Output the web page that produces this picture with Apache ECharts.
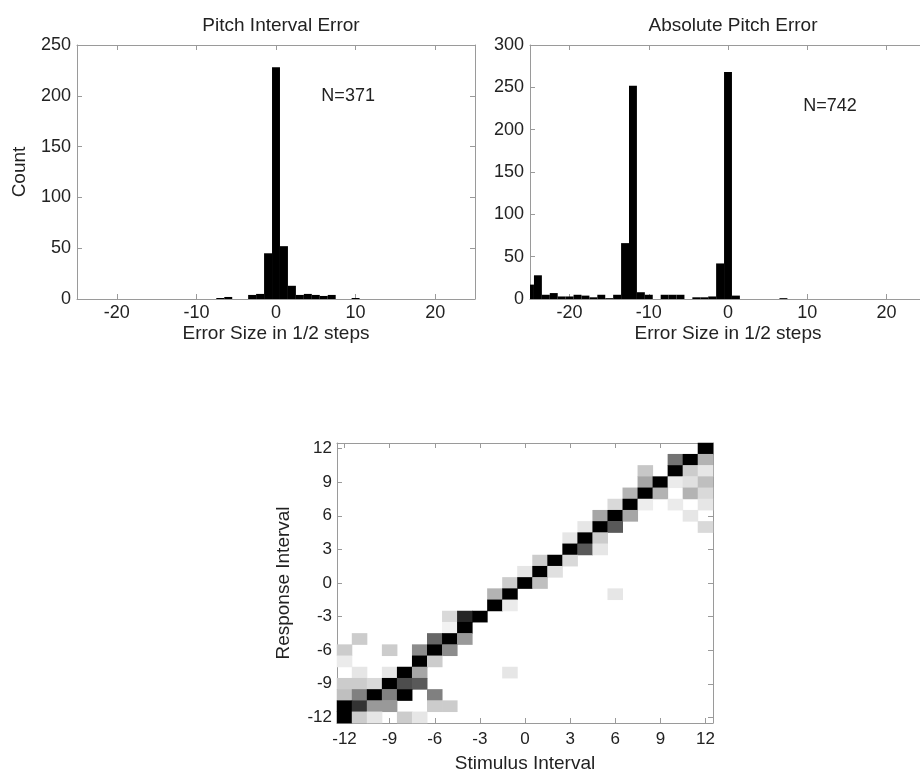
<!DOCTYPE html>
<html>
<head>
<meta charset="utf-8">
<script src="https://cdn.jsdelivr.net/npm/echarts@6/dist/echarts.min.js"></script>
<style>
html,body{margin:0;padding:0;background:#fff;overflow:hidden;}
#chart{width:920px;height:771px;}
</style>
</head>
<body>
<div id="chart"></div>
<script>
// ---------------- data ----------------
const intervalErrBins   = [-7, -6, -3, -2, -1, 0, 1, 2, 3, 4, 5, 6, 7, 10];
const intervalErrCounts = [ 1,  2,  4,  5, 45, 228, 52, 13, 4, 5, 4, 3, 4, 1];

const absErrBins   = [-25, -24, -23, -22, -21, -20, -19, -18, -17, -16, -15, -14, -13, -12, -11, -10, -8, -7, -6, -4, -3, -2, -1, 0, 1, 7];
const absErrCounts = [ 17,  28,   5,   7,   3,   3,   5,   4,   2,   5,   1,   5,  66, 252,   8,   5,  5,  5,  5,  2,  2,  3, 42, 268, 4, 1];

const xTickValues = [-20, -10, 0, 10, 20];
const intervalCats = ['-12','-11','-10','-9','-8','-7','-6','-5','-4','-3','-2','-1','0','1','2','3','4','5','6','7','8','9','10','11','12'];

// [stimulus, response, relative intensity 0..1]
const confusionCells = [
  [12,12,1],
  [10,11,0.55],[11,11,1],[12,11,0.3],
  [8,10,0.22],[10,10,1],[11,10,0.2],[12,10,0.1],
  [8,9,0.35],[9,9,1],[10,9,0.08],[11,9,0.12],[12,9,0.25],
  [7,8,0.3],[8,8,1],[9,8,0.3],[11,8,0.3],[12,8,0.15],
  [6,7,0.15],[7,7,1],[8,7,0.07],[10,7,0.08],[12,7,0.1],
  [5,6,0.35],[6,6,1],[7,6,0.35],[11,6,0.1],
  [4,5,0.1],[5,5,1],[6,5,0.65],[12,5,0.15],
  [3,4,0.1],[4,4,1],[5,4,0.2],
  [3,3,1],[4,3,0.65],[5,3,0.1],
  [1,2,0.2],[2,2,1],[3,2,0.15],
  [0,1,0.1],[1,1,1],[2,1,0.12],
  [-1,0,0.2],[0,0,1],[1,0,0.25],
  [-2,-1,0.3],[-1,-1,1],[6,-1,0.1],
  [-2,-2,1],[-1,-2,0.08],
  [-5,-3,0.15],[-4,-3,0.85],[-3,-3,1],
  [-5,-4,0.05],[-4,-4,1],
  [-11,-5,0.2],[-6,-5,0.6],[-5,-5,1],[-4,-5,0.4],
  [-12,-6,0.2],[-9,-6,0.2],[-7,-6,0.45],[-6,-6,1],[-5,-6,0.45],
  [-12,-7,0.08],[-7,-7,1],[-6,-7,0.2],
  [-11,-8,0.1],[-9,-8,0.1],[-8,-8,1],[-7,-8,0.35],[-1,-8,0.1],
  [-12,-9,0.2],[-11,-9,0.2],[-10,-9,0.15],[-9,-9,1],[-8,-9,0.7],[-7,-9,0.65],
  [-12,-10,0.25],[-11,-10,0.5],[-10,-10,1],[-9,-10,0.5],[-8,-10,1],[-6,-10,0.5],
  [-12,-11,1],[-11,-11,0.8],[-10,-11,0.4],[-9,-11,0.4],[-6,-11,0.2],[-5,-11,0.2],
  [-12,-12,1],[-11,-12,0.2],[-10,-12,0.1],[-8,-12,0.2],[-7,-12,0.1]
];

const annLeft  = {pos: [5.7, 200], text: 'N=371'};
const annRight = {pos: [9.5, 228], text: 'N=742'};

// ---------------- styling ----------------
const FONT = 'Liberation Sans, Arial, Helvetica, sans-serif';
const TXT = '#222';
const AX = '#9a9a9a';
const FS = 18;   // tick labels
const FN = 19;   // titles & axis names
const BIN = 1;

const chart = echarts.init(document.getElementById('chart'));

function nameStyle() { return {color: TXT, fontFamily: FONT, fontSize: FN}; }

function valX(grid, pos, showLabels, name) {
  return {
    type: 'value', gridIndex: grid, position: pos, min: -25, max: 25,
    axisLine: {show: true, onZero: false, lineStyle: {color: AX, width: 1}},
    axisTick: {show: true, inside: true, length: 5, customValues: xTickValues, lineStyle: {color: AX}},
    axisLabel: {show: showLabels, customValues: xTickValues, color: TXT, fontFamily: FONT, fontSize: FS, margin: 5},
    splitLine: {show: false},
    name: name || '', nameLocation: 'middle', nameGap: 25, nameTextStyle: nameStyle()
  };
}
function valY(grid, pos, max, showLabels, name) {
  return {
    type: 'value', gridIndex: grid, position: pos, min: 0, max: max, interval: 50,
    axisLine: {show: true, onZero: false, lineStyle: {color: AX, width: 1}},
    axisTick: {show: true, inside: true, length: 5, lineStyle: {color: AX}},
    axisLabel: {show: showLabels, color: TXT, fontFamily: FONT, fontSize: FS, margin: 6},
    splitLine: {show: false},
    name: name || '', nameLocation: 'middle', nameGap: 48, nameTextStyle: nameStyle()
  };
}
function catX(grid, pos, showLabels, name) {
  return {
    type: 'category', gridIndex: grid, position: pos, data: intervalCats,
    axisLine: {show: true, onZero: false, lineStyle: {color: AX, width: 1}},
    axisTick: {show: true, inside: true, length: 5, interval: 2, alignWithLabel: true, lineStyle: {color: AX}},
    axisLabel: {show: showLabels, interval: 2, color: TXT, fontFamily: FONT, fontSize: 17, margin: 8},
    splitLine: {show: false},
    name: name || '', nameLocation: 'middle', nameGap: 31, nameTextStyle: nameStyle()
  };
}
function catY(grid, pos, showLabels, name) {
  return {
    type: 'category', gridIndex: grid, position: pos, data: intervalCats,
    axisLine: {show: true, onZero: false, lineStyle: {color: AX, width: 1}},
    axisTick: {show: true, inside: true, length: 5, interval: 2, alignWithLabel: true, lineStyle: {color: AX}},
    axisLabel: {show: showLabels, interval: 2, color: TXT, fontFamily: FONT, fontSize: 17, margin: 5},
    splitLine: {show: false},
    name: name || '', nameLocation: 'middle', nameGap: 44, nameTextStyle: nameStyle()
  };
}

function histItem(params, api) {
  const x = api.value(0), c = api.value(1);
  if (!c) return null;
  const tl = api.coord([x - BIN / 2, c]);
  const br = api.coord([x + BIN / 2, 0]);
  const cs = params.coordSys;
  const rect = echarts.graphic.clipRectByRect(
    {x: tl[0], y: tl[1], width: br[0] - tl[0], height: br[1] - tl[1]},
    {x: cs.x, y: cs.y, width: cs.width, height: cs.height});
  if (!rect) return null;
  return {type: 'rect', shape: rect, style: {fill: '#000'}};
}
function textSeries(ann, xi, yi) {
  return {
    type: 'custom', xAxisIndex: xi, yAxisIndex: yi, silent: true,
    data: [ann.pos],
    renderItem: function (params, api) {
      const p = api.coord([api.value(0), api.value(1)]);
      return {type: 'text', x: p[0], y: p[1],
        style: {text: ann.text, fill: TXT, font: FS + 'px ' + FONT, textAlign: 'left', textVerticalAlign: 'middle'}};
    }
  };
}

const option = {
  backgroundColor: '#fff',
  animation: false,
  title: [
    {text: 'Pitch Interval Error', left: 276, top: 11, textAlign: 'center',
     textStyle: {color: TXT, fontFamily: FONT, fontSize: FN, fontWeight: 'normal'}},
    {text: 'Absolute Pitch Error', left: 728, top: 11, textAlign: 'center',
     textStyle: {color: TXT, fontFamily: FONT, fontSize: FN, fontWeight: 'normal'}}
  ],
  grid: [
    {left: 77, top: 45, width: 398, height: 254, outerBoundsMode: 'none', containLabel: false},
    {left: 530, top: 45, width: 396, height: 254, outerBoundsMode: 'none', containLabel: false},
    {left: 337, top: 443, width: 376, height: 280, outerBoundsMode: 'none', containLabel: false}
  ],
  xAxis: [
    valX(0, 'bottom', true, 'Error Size in 1/2 steps'),
    valX(0, 'top', false),
    valX(1, 'bottom', true, 'Error Size in 1/2 steps'),
    valX(1, 'top', false),
    catX(2, 'bottom', true, 'Stimulus Interval'),
    catX(2, 'top', false)
  ],
  yAxis: [
    valY(0, 'left', 250, true, 'Count'),
    valY(0, 'right', 250, false),
    valY(1, 'left', 300, true),
    valY(1, 'right', 300, false),
    catY(2, 'left', true, 'Response Interval'),
    catY(2, 'right', false)
  ],
  visualMap: {
    type: 'continuous', show: false, min: 0, max: 1, seriesIndex: 4,
    inRange: {color: ['#ffffff', '#000000']}
  },
  series: [
    {type: 'custom', xAxisIndex: 0, yAxisIndex: 0, renderItem: histItem,
     data: intervalErrBins.map((b, i) => [b, intervalErrCounts[i]])},
    {type: 'custom', xAxisIndex: 2, yAxisIndex: 2, renderItem: histItem,
     data: absErrBins.map((b, i) => [b, absErrCounts[i]])},
    textSeries(annLeft, 0, 0),
    textSeries(annRight, 2, 2),
    {type: 'heatmap', xAxisIndex: 4, yAxisIndex: 4,
     data: confusionCells.map(c => [String(c[0]), String(c[1]), c[2]]),
     itemStyle: {borderWidth: 0}}
  ]
};
chart.setOption(option);
</script>
</body>
</html>
